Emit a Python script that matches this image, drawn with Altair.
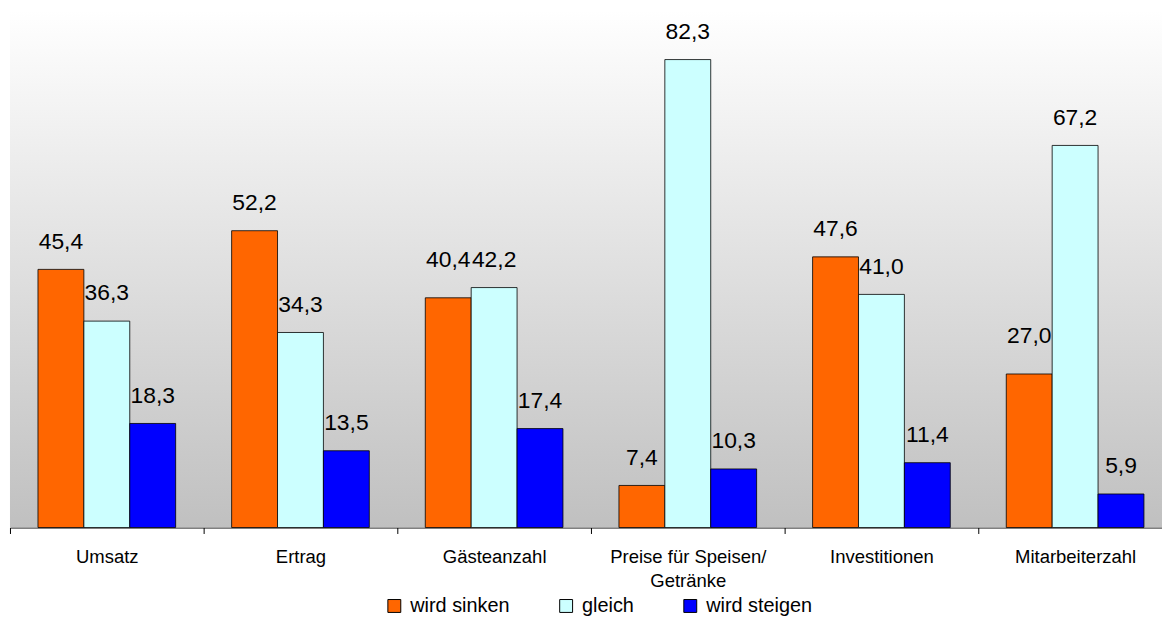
import altair as alt
import pandas as pd

categories = ["Umsatz", "Ertrag", "Gästeanzahl", "Preise für Speisen/\nGetränke", "Investitionen", "Mitarbeiterzahl"]
series = ["wird sinken", "gleich", "wird steigen"]
wird_sinken = [45.4, 52.2, 40.4, 7.4, 47.6, 27.0]
gleich = [36.3, 34.3, 42.2, 82.3, 41.0, 67.2]
wird_steigen = [18.3, 13.5, 17.4, 10.3, 11.4, 5.9]
colors = ["#FF6600", "#CCFFFF", "#0000FF"]

rows = []
for s, vals in zip(series, [wird_sinken, gleich, wird_steigen]):
    for c, v in zip(categories, vals):
        rows.append({"Kategorie": c, "Serie": s, "Wert": v})
df = pd.DataFrame(rows)

W, H = 1160, 521
XR = 1170  # x range extends slightly past the visible area (as in the reference)
YMAX = 91
FONT = "Liberation Sans"

x_enc = alt.X("Kategorie:N", sort=categories,
              scale=alt.Scale(paddingInner=0, paddingOuter=0, range=[0, XR]),
              axis=alt.Axis(title=None, labelAngle=0, labelFontSize=18.6, labelColor="#000000",
                            labelFont=FONT, labelPadding=14, labelLineHeight=24, labelLimit=400,
                            tickBand="extent", tickSize=6, tickColor="#000000", domainColor="#000000",
                            domainWidth=1, tickWidth=1,
                            labelExpr="split(datum.label, '\\n')"))
xo_enc = alt.XOffset("Serie:N", sort=series, scale=alt.Scale(paddingInner=0, paddingOuter=0.61))
y_scale = alt.Scale(domain=[0, YMAX], nice=False)

bg = alt.Chart(pd.DataFrame({"a": [0]})).mark_rect(
    fill=alt.LinearGradient(gradient="linear",
                            stops=[alt.GradientStop(color="#FFFFFF", offset=0),
                                   alt.GradientStop(color="#C0C0C0", offset=1)],
                            x1=0, x2=0, y1=0, y2=1),
    stroke=None
).encode(x=alt.value(0), x2=alt.value(XR), y=alt.value(0), y2=alt.value(H))

base = alt.Chart(df)

bars = base.mark_bar(stroke="#000000", strokeWidth=0.8, opacity=1).encode(
    x=x_enc,
    xOffset=xo_enc,
    y=alt.Y("Wert:Q", scale=y_scale, axis=None),
    color=alt.Color("Serie:N", sort=series,
                    scale=alt.Scale(domain=series, range=colors),
                    legend=alt.Legend(title=None, orient="none", direction="horizontal",
                                      legendX=377, legendY=590, padding=0,
                                      symbolType="square", symbolSize=169,
                                      symbolStrokeColor="#000000", symbolStrokeWidth=1,
                                      symbolOpacity=1,
                                      labelFontSize=20, labelFont=FONT, labelColor="#000000",
                                      labelOffset=6, columnPadding=46, labelLimit=300))
)

# two labels sit about 10 px higher in the reference (label-collision placement)
raised = "datum.Serie == 'wird sinken' && (datum.Kategorie == 'Gästeanzahl' || datum.Kategorie == 'Mitarbeiterzahl')"
lift_units = 10 * YMAX / H

labels = base.transform_calculate(
    txt="replace(format(datum.Wert, '.1f'), '.', ',')",
    ypos=f"datum.Wert + (({raised}) ? {lift_units} : 0)"
).mark_text(fontSize=23, font=FONT, color="#000000", baseline="alphabetic", dy=-21).encode(
    x=x_enc,
    xOffset=xo_enc,
    y=alt.Y("ypos:Q", scale=y_scale, axis=None),
    text="txt:N"
)

chart = alt.layer(bg, bars, labels).properties(
    width=W, height=H,
    autosize=alt.AutoSizeParams(type="none"),
    padding={"left": 2, "top": 0, "right": 0, "bottom": 90}
).configure_view(stroke=None).configure_axis(grid=False)

chart.save("out.html", embed_options={"renderer": "svg", "actions": False})
